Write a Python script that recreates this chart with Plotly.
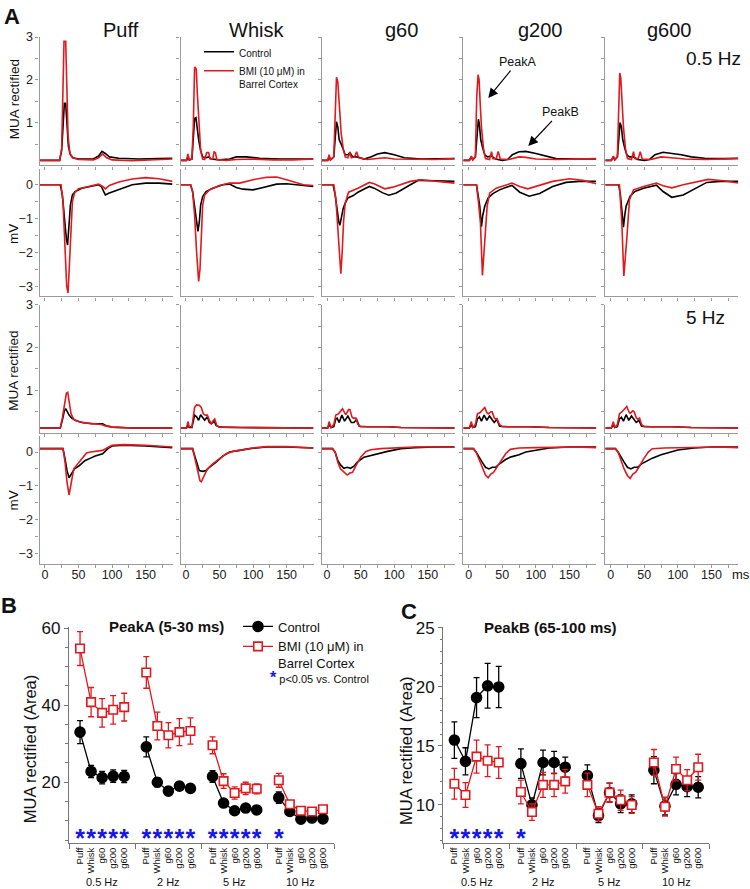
import plotly.graph_objects as go

# ---------------- data ----------------
stimuli = ["Puff", "Whisk", "g60", "g200", "g600"]
freqs = ["0.5 Hz", "2 Hz", "5 Hz", "10 Hz"]

# Panel A: (time ms, value) points
mua05_ctrl = {
    "Puff": [(-8,.12),(22,.12),(25,.35),(27,1.0),(29,1.45),(31,1.45),(33,.9),(35,.45),(38,.25),(42,.18),(50,.15),(72,.15),(80,.22),(85,.33),(90,.28),(96,.2),(110,.17),(140,.15),(170,.16),(190,.17)],
    "Whisk": [(-8,.12),(1,.12),(3,.2),(5,.13),(9,.15),(11,.6),(13,1.1),(15,1.12),(17,.85),(19,.6),(22,.35),(25,.2),(30,.18),(34,.2),(38,.15),(50,.13),(65,.15),(75,.2),(90,.2),(110,.17),(140,.15),(170,.14),(190,.15)],
    "g60": [(-8,.12),(1,.12),(3,.2),(5,.13),(10,.2),(12,.7),(14,1.02),(16,.9),(18,.6),(21,.5),(24,.35),(27,.25),(31,.25),(34,.3),(38,.2),(45,.2),(55,.15),(65,.2),(75,.27),(86,.3),(100,.25),(115,.18),(140,.15),(170,.16),(190,.16)],
    "g200": [(-8,.12),(1,.12),(4,.2),(6,.13),(10,.2),(12,.7),(14.5,1.08),(16,.95),(18,.6),(21,.4),(24,.25),(28,.2),(34,.22),(40,.15),(50,.12),(58,.14),(65,.25),(75,.32),(85,.33),(100,.28),(115,.22),(130,.16),(160,.15),(190,.15)],
    "g600": [(-8,.12),(1,.12),(4,.2),(6,.13),(10,.2),(12,.75),(14,1.0),(16,.9),(18,.6),(21,.4),(24,.25),(28,.2),(34,.2),(40,.14),(50,.12),(58,.14),(66,.25),(78,.31),(90,.29),(105,.25),(120,.2),(140,.17),(170,.16),(190,.17)],
}
mua05_bmi = {
    "Puff": [(-8,.12),(22,.12),(25,.4),(27,1.6),(28.5,2.9),(31,2.9),(32.5,1.8),(34.5,.7),(37,.3),(41,.18),(50,.14),(72,.13),(80,.18),(86,.27),(92,.18),(100,.13),(130,.11),(160,.13),(190,.15)],
    "Whisk": [(-8,.12),(1,.12),(3,.27),(5,.14),(9,.15),(11,.9),(13,2.3),(15.5,2.25),(17,1.7),(19.5,.9),(22,.35),(25,.15),(28,.14),(31,.3),(34,.3),(36,.15),(40,.15),(42,.32),(44,.3),(46,.14),(60,.12),(75,.14),(100,.15),(130,.13),(160,.13),(190,.15)],
    "g60": [(-8,.12),(1,.12),(3,.25),(5,.13),(10,.2),(12,1.4),(14,2.06),(16,1.95),(18,1.4),(21,.75),(24,.4),(27,.2),(31,.18),(34,.3),(36,.18),(41,.2),(44,.32),(47,.18),(60,.14),(75,.17),(86,.18),(100,.15),(130,.14),(160,.14),(190,.16)],
    "g200": [(-8,.12),(1,.12),(4,.22),(6,.13),(10,.2),(12,1.6),(14,2.12),(15.5,2.0),(17,1.5),(19,.9),(22,.4),(25,.16),(31,.14),(34,.32),(36,.16),(41,.16),(44,.33),(47,.15),(60,.14),(75,.2),(85,.19),(100,.15),(130,.14),(160,.15),(190,.16)],
    "g600": [(-8,.12),(1,.12),(4,.22),(6,.13),(10,.2),(12,1.6),(13.5,2.16),(15,2.05),(17,1.4),(19,.9),(22,.4),(25,.16),(31,.14),(34,.32),(36,.16),(41,.16),(44,.32),(47,.15),(60,.14),(75,.2),(90,.18),(110,.15),(140,.14),(170,.15),(190,.16)],
}
lfp05_ctrl = {
    "Puff": [(-8,0),(23,0),(26,-.3),(29,-1.0),(32,-1.6),(33.8,-1.78),(36,-1.2),(38,-.6),(41,-.3),(45,-.2),(55,-.1),(70,-.05),(80,0),(84,-.05),(90,-.3),(95,-.25),(110,-.15),(130,0),(150,.05),(170,.05),(190,.02)],
    "Whisk": [(-8,0),(7,0),(10,-.2),(13,-.7),(16,-1.2),(18,-1.38),(20,-1.1),(22,-.6),(25,-.35),(30,-.2),(40,-.1),(55,0),(65,.02),(75,-.08),(85,-.13),(100,-.15),(115,-.08),(135,.02),(150,.03),(170,0),(190,-.05)],
    "g60": [(-8,0),(9,0),(12,-.3),(15,-.8),(17.5,-1.1),(19,-1.2),(21,-.95),(24,-.7),(27,-.54),(31,-.39),(39,-.32),(46,-.22),(56,-.12),(63,-.05),(70,-.1),(83,-.24),(92,-.31),(103,-.24),(124,0),(136,.13),(160,.12),(190,.1)],
    "g200": [(-8,0),(11.6,0),(14,-.3),(16.5,-.63),(19,-1.24),(21,-.9),(24,-.63),(29,-.39),(36,-.26),(46,-.15),(56,-.07),(64.5,-.02),(76,-.22),(90,-.34),(105.6,-.26),(125,-.05),(145,.07),(165,.1),(190,.1)],
    "g600": [(-8,0),(12,0),(14.5,-.3),(16.8,-.7),(19,-1.25),(21,-.9),(23,-.63),(29,-.34),(36,-.2),(49,-.1),(68,-.01),(78,-.2),(91,-.37),(108,-.3),(128,-.1),(143,.07),(163,.1),(190,.1)],
}
lfp05_bmi = {
    "Puff": [(-8,0),(24,0),(27,-.5),(30,-1.8),(32.5,-3.0),(34.5,-3.2),(36.5,-2.4),(38.5,-1.2),(41,-.5),(44,-.25),(50,-.12),(65,-.05),(80,.02),(86,-.05),(90,-.12),(96,-.02),(110,.08),(130,.17),(150,.21),(170,.18),(190,.1)],
    "Whisk": [(-8,0),(7,0),(10,-.2),(13,-.9),(16,-2.0),(19,-2.86),(21,-2.5),(23,-1.4),(25,-.6),(28,-.3),(35,-.15),(50,-.02),(65,.05),(80,.05),(100,.15),(120,.22),(135,.23),(150,.15),(165,.05),(175,0),(190,-.02)],
    "g60": [(-8,0),(10,0),(13,-.4),(15.5,-1.1),(18,-1.9),(20.5,-2.63),(22.5,-2.0),(24.5,-1.1),(27,-.54),(32,-.22),(46,-.1),(63,.07),(70,.03),(86,-.12),(98,-.07),(124,.1),(139,.15),(179,.07),(190,.05)],
    "g200": [(-8,0),(11.6,0),(14.5,-.5),(17.5,-1.12),(20.5,-2.68),(24,-1.6),(27.5,-.63),(31.4,-.24),(41,-.1),(64.5,.05),(76,-.05),(88,-.12),(100,-.05),(125,.1),(150,.18),(170,.13),(190,.03)],
    "g600": [(-8,0),(13,0),(16.6,-1.12),(19.6,-2.7),(24,-1.6),(28,-.44),(34,-.15),(49,-.05),(68,.05),(78,-.03),(91,-.09),(108,0),(145,.16),(168,.12),(190,.05)],
}
mua5_ctrl = {
    "Puff": [(-8,.12),(23,.12),(26,.3),(29,.52),(31,.57),(33,.5),(36,.42),(40,.35),(45,.3),(55,.25),(70,.22),(82,.22),(86,.22),(92,.17),(100,.14),(130,.12),(190,.12)],
    "Whisk": [(-8,.12),(1,.12),(3,.18),(5,.13),(9,.13),(11,.3),(13,.42),(16,.38),(19,.3),(22,.43),(25,.35),(28,.3),(32,.38),(35,.25),(38,.22),(42,.28),(45,.18),(50,.14),(80,.13),(190,.12)],
    "g60": [(-8,.12),(1,.12),(3,.2),(6,.13),(10,.15),(13,.33),(15,.35),(18,.25),(22,.42),(26,.28),(31,.4),(36,.25),(40,.25),(44,.32),(48,.16),(60,.15),(90,.15),(110,.13),(190,.12)],
    "g200": [(-8,.12),(1,.12),(4,.2),(6,.13),(10,.15),(13,.33),(16,.38),(19,.28),(23,.42),(27,.3),(31,.4),(35,.3),(38,.25),(42,.32),(46,.16),(60,.15),(90,.15),(120,.13),(190,.12)],
    "g600": [(-8,.12),(1,.12),(4,.2),(6,.13),(10,.15),(13,.33),(16,.37),(19,.28),(23,.43),(27,.3),(31,.4),(35,.3),(38,.25),(42,.3),(46,.16),(60,.15),(90,.15),(120,.13),(190,.12)],
}
mua5_bmi = {
    "Puff": [(-8,.12),(23,.12),(26,.35),(29,.7),(32,.93),(34,.95),(36,.75),(39,.45),(43,.32),(50,.27),(60,.24),(75,.21),(84,.2),(90,.17),(100,.14),(130,.12),(190,.12)],
    "Whisk": [(-8,.12),(1,.12),(3,.27),(5,.15),(9,.15),(11,.4),(13,.6),(16,.66),(20,.65),(23,.6),(26,.45),(29,.42),(32,.42),(35,.3),(38,.22),(41,.3),(43,.33),(46,.18),(50,.14),(80,.13),(190,.12)],
    "g60": [(-8,.12),(1,.12),(3,.27),(6,.13),(10,.2),(13,.42),(17,.45),(21,.55),(23,.57),(26,.48),(28,.43),(32,.55),(34,.55),(37,.38),(39,.35),(43,.35),(46,.2),(50,.15),(90,.15),(110,.13),(190,.12)],
    "g200": [(-8,.12),(1,.12),(4,.27),(6,.13),(10,.2),(13,.45),(17,.48),(21,.55),(24,.6),(27,.48),(29,.45),(33,.5),(35,.5),(38,.36),(40,.33),(42,.34),(46,.2),(50,.15),(90,.15),(120,.13),(190,.12)],
    "g600": [(-8,.12),(1,.12),(4,.27),(6,.13),(10,.2),(13,.45),(17,.5),(21,.56),(24,.62),(27,.5),(29,.46),(33,.52),(35,.5),(38,.36),(40,.33),(43,.35),(46,.2),(50,.15),(90,.15),(120,.13),(190,.12)],
}
lfp5_ctrl = {
    "Puff": [(-8,.1),(27,.1),(30,-.2),(33,-.55),(36,-.76),(39,-.65),(44,-.5),(50,-.42),(60,-.25),(68,-.18),(75,-.12),(86,-.05),(95,.12),(100,.18),(117,.2),(150,.18),(190,.13)],
    "Whisk": [(-8,.1),(10,.1),(13,-.1),(17,-.4),(20,-.55),(25,-.57),(30,-.55),(35,-.45),(45,-.3),(55,-.12),(65,0),(80,.05),(95,.1),(120,.15),(150,.15),(190,.12)],
    "g60": [(-8,.1),(8,.1),(12,0),(16,-.25),(20,-.38),(25,-.48),(30,-.45),(35,-.48),(40,-.42),(45,-.3),(55,-.15),(65,-.1),(75,-.05),(90,.02),(110,.1),(130,.13),(160,.15),(190,.15)],
    "g200": [(-8,.1),(7,.1),(11,0),(15,-.15),(20,-.3),(25,-.45),(30,-.5),(35,-.45),(40,-.45),(46,-.35),(55,-.22),(62,-.15),(75,-.08),(85,0),(100,.06),(120,.12),(150,.15),(190,.15)],
    "g600": [(-8,.1),(7,.1),(11,0),(15,-.15),(20,-.3),(25,-.45),(30,-.5),(35,-.45),(40,-.45),(46,-.35),(55,-.25),(62,-.18),(75,-.08),(88,0),(100,.06),(124,.12),(150,.15),(190,.15)],
}
lfp5_bmi = {
    "Puff": [(-8,.1),(27,.1),(30,-.3),(33,-.9),(36,-1.27),(39,-.9),(43,-.5),(50,-.32),(57,-.15),(62,-.03),(68,0),(75,.02),(86,.05),(95,.15),(100,.2),(117,.22),(150,.2),(190,.15)],
    "Whisk": [(-8,.1),(10,.1),(13,-.15),(17,-.55),(21,-.85),(23,-.88),(27,-.7),(32,-.5),(40,-.35),(50,-.2),(60,-.05),(70,.02),(85,.07),(100,.12),(120,.16),(150,.16),(190,.12)],
    "g60": [(-8,.1),(8,.1),(12,0),(16,-.3),(20,-.5),(25,-.6),(30,-.68),(34,-.62),(38,-.6),(43,-.4),(50,-.15),(58,.02),(65,.07),(80,.1),(100,.12),(130,.15),(160,.15),(190,.14)],
    "g200": [(-8,.1),(7,.1),(11,0),(15,-.2),(20,-.45),(25,-.68),(29,-.76),(33,-.65),(37,-.6),(42,-.45),(47,-.3),(55,-.05),(62,.08),(75,.12),(100,.13),(130,.14),(160,.15),(190,.13)],
    "g600": [(-8,.1),(7,.1),(11,0),(15,-.25),(20,-.5),(25,-.7),(29,-.78),(33,-.65),(37,-.6),(42,-.45),(49,-.2),(56,0),(62,.1),(80,.12),(100,.13),(130,.14),(160,.15),(190,.13)],
}

# Panel B: PeakA (5-30 ms) area, rows = frequencies, cols = stimuli
peakA_ctrl = [[33.0, 22.8, 21.2, 21.6, 21.5], [29.2, 20.0, 17.7, 19.0, 18.4],
              [21.5, 14.6, 12.6, 13.3, 12.8], [16.0, 12.4, 10.4, 10.7, 10.5]]
peakA_ctrl_err = [[3.0, 1.6, 1.6, 1.6, 1.6], [2.6, 1.2, 1.0, 1.0, 1.0],
                  [1.5, 0.8, 0.6, 0.6, 0.6], [1.5, 0.6, 0.5, 0.5, 0.5]]
peakA_bmi = [[54.7, 40.8, 38.0, 38.8, 39.5], [48.5, 34.6, 32.2, 33.0, 33.3],
             [29.6, 20.3, 17.2, 18.4, 18.3], [20.5, 14.3, 12.6, 12.4, 13.0]]
peakA_bmi_err = [[4.4, 3.8, 3.7, 3.7, 3.6], [4.1, 3.6, 3.3, 3.5, 3.4],
                 [2.2, 1.9, 1.6, 1.6, 1.3], [1.8, 0.8, 0.5, 0.5, 0.5]]
peakA_sig = [[1, 1, 1, 1, 1], [1, 1, 1, 1, 1], [1, 1, 1, 1, 1], [1, 0, 0, 0, 0]]

# Panel C: PeakB (65-100 ms) area
peakB_ctrl = [[15.5, 13.7, 19.1, 20.1, 20.0], [13.5, 10.0, 13.6, 13.6, 13.2],
              [12.5, 9.1, 11.05, 10.1, 10.1], [12.95, 9.9, 11.75, 11.55, 11.5]]
peakB_ctrl_err = [[1.55, 1.15, 1.7, 1.9, 1.75], [1.25, 0.6, 1.05, 0.95, 0.85],
                  [0.9, 0.6, 0.8, 0.75, 0.75], [1.15, 0.75, 0.9, 0.85, 0.9]]
peakB_bmi = [[11.8, 10.85, 14.1, 13.75, 13.6], [11.1, 9.4, 11.7, 11.7, 12.0],
             [11.7, 9.25, 11.05, 10.4, 10.0], [13.6, 9.85, 13.05, 12.1, 13.2]]
peakB_bmi_err = [[1.3, 1.05, 1.4, 1.35, 1.35], [1.0, 0.7, 1.05, 1.0, 1.0],
                 [1.0, 0.6, 0.8, 0.85, 0.7], [1.1, 0.8, 1.0, 0.9, 1.1]]
peakB_sig = [[1, 1, 1, 1, 1], [1, 0, 0, 0, 0], [0, 0, 0, 0, 0], [0, 0, 0, 0, 0]]

# ---------------- layout helpers ----------------
W, H = 750, 889
def fx(p): return p / W
def fy(p): return 1 - p / H

FONT = "Arial, Liberation Sans, sans-serif"
AXC = "#9a9a9a"
RED = "#e0191e"
BLUE = "#1515e6"

fig = go.Figure()
layout = dict(width=W, height=H, margin=dict(l=0, r=0, t=0, b=0),
              paper_bgcolor="white", plot_bgcolor="white",
              font=dict(family=FONT, color="#111"), annotations=[])

col_left = [39.5, 180.5, 321.7, 463.3, 605.3]
col_w = 133.0
row_pix = [(29.3, 158.9), (162.0, 291.0), (299.3, 429.0), (431.7, 560.7)]
row_range = [[0, 3], [-3.3, 0.48], [0, 3], [-3.3, 0.48]]
row_ticks = [[1, 2, 3], [0, -1, -2, -3], [1, 2, 3], [0, -1, -2, -3]]
row_minor = [[0.5, 1.5, 2.5], [-0.5, -1.5, -2.5], [0.5, 1.5, 2.5], [-0.5, -1.5, -2.5]]
rows_data = [(mua05_ctrl, mua05_bmi), (lfp05_ctrl, lfp05_bmi),
             (mua5_ctrl, mua5_bmi), (lfp5_ctrl, lfp5_bmi)]

for r in range(4):
    for c in range(5):
        k = r * 5 + c + 1
        sx = "" if k == 1 else str(k)
        layout["xaxis" + sx] = dict(
            domain=[fx(col_left[c]), fx(col_left[c] + col_w)], range=[-8, 190],
            anchor="y" + sx, showline=True, linecolor=AXC, linewidth=1.3,
            ticks="outside", ticklen=3, tickcolor=AXC, tickwidth=1,
            tickmode="array", tickvals=[0, 50, 100, 150],
            minor=dict(tickmode="array", tickvals=[25, 75, 125, 175], ticks="outside",
                       ticklen=3, tickcolor=AXC),
            showticklabels=(r == 3), tickfont=dict(size=12.5, color="#222"),
            ticklabelstandoff=-4,
            showgrid=False, zeroline=False)
        layout["yaxis" + sx] = dict(
            domain=[fy(row_pix[r][1]), fy(row_pix[r][0])], range=row_range[r],
            anchor="x" + sx, showline=True, linecolor=AXC, linewidth=1.3,
            ticks="outside", ticklen=3, tickcolor=AXC, tickwidth=1,
            tickmode="array", tickvals=row_ticks[r],
            minor=dict(tickmode="array", tickvals=row_minor[r], ticks="outside",
                       ticklen=3, tickcolor=AXC),
            showticklabels=(c == 0), tickfont=dict(size=12.5, color="#222"),
            showgrid=False, zeroline=False)
        ctrl, bmi = rows_data[r]
        s = stimuli[c]
        for data, col, name in ((ctrl, "black", "Control"),
                                (bmi, RED, "BMI (10 \u03bcM) in<br>Barrel Cortex")):
            fig.add_trace(go.Scatter(
                x=[p[0] for p in data[s]], y=[p[1] for p in data[s]],
                mode="lines", line=dict(color=col, width=1.6),
                xaxis="x" + sx, yaxis="y" + sx, name=name,
                showlegend=(k == 1), legend="legend2", hoverinfo="skip"))

# ---------------- panels B and C ----------------
def xpos(g, i):
    return 6 * g + i

cat_x = [xpos(g, i) for g in range(4) for i in range(5)]
cat_text = [s for g in range(4) for s in stimuli]

panels = [
    dict(k=21, left=69.0, right=334.0, rng=[4.3, 60.2], ticks=[20, 40, 60], minor=5,
         ctrl=peakA_ctrl, ctrl_err=peakA_ctrl_err, bmi=peakA_bmi, bmi_err=peakA_bmi_err,
         sig=peakA_sig, star_y=4.9, legend=True),
    dict(k=22, left=443.3, right=709.3, rng=[6.8, 25.05], ticks=[10, 15, 20, 25], minor=1,
         ctrl=peakB_ctrl, ctrl_err=peakB_ctrl_err, bmi=peakB_bmi, bmi_err=peakB_bmi_err,
         sig=peakB_sig, star_y=7.0, legend=False),
]
for P in panels:
    sx = str(P["k"])
    layout["xaxis" + sx] = dict(
        domain=[fx(P["left"]), fx(P["right"])], range=[-1, 23], anchor="y" + sx,
        showline=True, linecolor="#777", linewidth=1.3,
        tickmode="array", tickvals=cat_x, ticktext=cat_text, ticks="",
        tickangle=-90, tickfont=dict(size=9.5, color="#111"),
        minor=dict(tickmode="array", tickvals=[-1, 5, 11, 17, 23], ticks="outside",
                   ticklen=5, tickcolor="#777"),
        showgrid=False, zeroline=False)
    layout["yaxis" + sx] = dict(
        domain=[fy(842.3), fy(625.0)], range=P["rng"], anchor="x" + sx,
        showline=True, linecolor="#777", linewidth=1.3,
        tickmode="array", tickvals=P["ticks"], ticks="outside", ticklen=4,
        tickcolor="#777", tickfont=dict(size=17, color="#111"),
        minor=dict(tickmode="linear", tick0=0, dtick=P["minor"], ticks="outside",
                   ticklen=2.5, tickcolor="#777"),
        showgrid=False, zeroline=False)

    for key, errkey, color, sym, msize, name in (
            ("ctrl", "ctrl_err", "black", "circle", 10, "Control"),
            ("bmi", "bmi_err", RED, "square", 8.5, "BMI (10 \u03bcM) in<br>Barrel Cortex")):
        xs, ys, es = [], [], []
        for g in range(4):
            for i in range(5):
                xs.append(xpos(g, i)); ys.append(P[key][g][i]); es.append(P[errkey][g][i])
            xs.append(None); ys.append(None); es.append(0)
        fig.add_trace(go.Scatter(
            x=xs, y=ys, mode="lines+markers", connectgaps=False,
            line=dict(color=color, width=1.3),
            marker=dict(symbol=sym, size=msize,
                        color=("black" if key == "ctrl" else "white"),
                        line=dict(color=color, width=1.6)),
            error_y=dict(type="data", array=es, visible=True, color=color,
                         thickness=1.3, width=3),
            xaxis="x" + sx, yaxis="y" + sx, name=name,
            showlegend=P["legend"], legend="legend", hoverinfo="skip"))

    sx_star = [xpos(g, i) for g in range(4) for i in range(5) if P["sig"][g][i]]
    fig.add_trace(go.Scatter(
        x=sx_star, y=[P["star_y"]] * len(sx_star), mode="text", text=["<b>*</b>"] * len(sx_star),
        textposition="middle center", textfont=dict(size=25, color=BLUE, family=FONT),
        xaxis="x" + sx, yaxis="y" + sx, showlegend=False, hoverinfo="skip"))

    for g, f in enumerate(freqs):
        layout["annotations"].append(dict(
            x=xpos(g, 2), y=fy(882), xref="x" + sx, yref="paper", text=f,
            showarrow=False, font=dict(size=11, color="#111"),
            xanchor="center", yanchor="middle"))

# legends
layout["legend"] = dict(x=fx(238), y=fy(609), xanchor="left", yanchor="top",
                        bgcolor="rgba(0,0,0,0)", font=dict(size=13, color="#111"),
                        itemwidth=30, tracegroupgap=0, valign="top")
layout["legend2"] = dict(x=fx(199), y=fy(31), xanchor="left", yanchor="top",
                         bgcolor="rgba(0,0,0,0)", font=dict(size=10, color="#111"),
                         itemwidth=30, tracegroupgap=0, valign="top")

ann = layout["annotations"]
def text(x, y, t, size, bold=False, xanchor="center", angle=0, color="#111"):
    ann.append(dict(x=fx(x), y=fy(y), xref="paper", yref="paper",
                    text=("<b>%s</b>" % t) if bold else t, showarrow=False,
                    font=dict(size=size, color=color), xanchor=xanchor, yanchor="middle",
                    textangle=angle))

title_x = [121, 256.7, 401.7, 540.8, 669]
for s, x in zip(stimuli, title_x):
    text(x, 21.7, s, 20)
text(743, 51, "0.5 Hz", 19, xanchor="right")
text(727, 312.5, "5 Hz", 19, xanchor="right")
text(741, 571.5, "ms", 13)
text(12, 9, "A", 22, bold=True)
text(9, 603, "B", 22, bold=True)
text(409, 609, "C", 22, bold=True)
for y, t in ((92, "MUA rectified"), (228, "mV"), (366, "MUA rectified"), (497, "mV")):
    text(14, y, t, 13.5, angle=-90)
text(30, 748, "MUA rectified (Area)", 16.5, angle=-90)
text(406.7, 749, "MUA rectified (Area)", 16.5, angle=-90)
text(166.7, 624.5, "PeakA (5-30 ms)", 15, bold=True)
text(550, 625, "PeakB (65-100 ms)", 15, bold=True)
ann.append(dict(x=fx(268), y=fy(676), xref="paper", yref="paper", xanchor="left",
                yanchor="middle", showarrow=False,
                text='<span style="color:%s;font-size:16px"><b>*</b></span> p&lt;0.05 vs. Control' % BLUE,
                font=dict(size=11, color="#111")))
# arrows
for (tx, ty, hx, hy, t) in ((517.5, 55, 488.3, 90.7, "PeakA"), (560, 105.7, 528.3, 139.3, "PeakB")):
    ann.append(dict(x=fx(hx), y=fy(hy), xref="paper", yref="paper",
                    ax=tx - hx, ay=ty - hy, axref="pixel", ayref="pixel",
                    text=t, showarrow=True, arrowhead=2, arrowsize=1.6, arrowwidth=1.2,
                    arrowcolor="black", font=dict(size=12.5, color="#111")))

fig.update_layout(**layout)
fig.write_html("out.html", config={"displayModeBar": False},
               post_script="document.body.style.margin='0';document.body.style.overflow='hidden';")
